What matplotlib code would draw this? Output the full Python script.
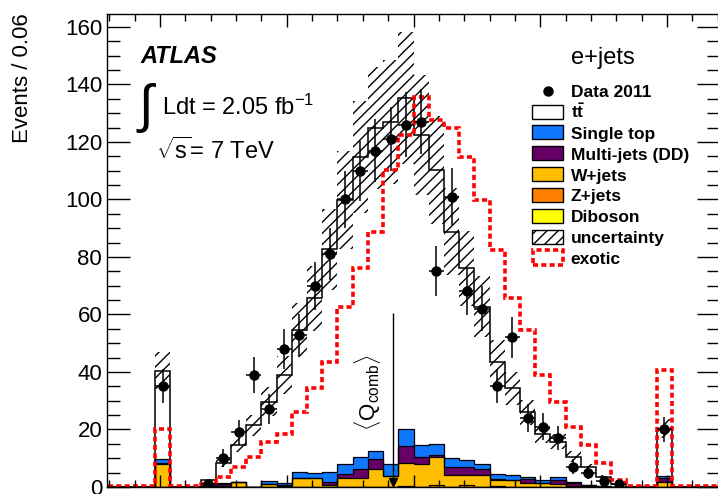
import numpy as np
import matplotlib
matplotlib.use('Agg')
import matplotlib.pyplot as plt
from matplotlib.patches import Rectangle
from matplotlib.lines import Line2D
from matplotlib.ticker import MultipleLocator

plt.rcParams['font.family'] = ['Liberation Sans', 'DejaVu Sans']
plt.rcParams['mathtext.fontset'] = 'custom'
plt.rcParams['mathtext.rm'] = 'Liberation Sans'
plt.rcParams['mathtext.it'] = 'Liberation Sans:italic'
plt.rcParams['mathtext.bf'] = 'Liberation Sans:bold'
plt.rcParams['hatch.linewidth'] = 1.0

#binning: 40 bins of 0.06 from -1.2 to 1.2
edges = np.linspace(-1.2, 1.2, 41)
centers = 0.5 * (edges[1:] + edges[:-1])
bin_w = 0.06

#data 2011 (events per bin)
data = np.array([0, 0, 0,
                 35, 0, 0, 1, 10, 19, 39, 27, 48, 53,
                 70, 81, 100, 110, 117, 121, 126, 127, 75, 101,
                 68, 62, 35, 52, 24, 21, 17, 7, 5, 2,
                 1, 0, 0, 20,
                 0, 0, 0], dtype=float)

#total prediction (top of the stack)
mc_total = np.array([0, 0, 0,
                     40.5, 0, 0, 2.4, 8.4, 14.6, 21.5, 29.7, 39.0, 54.6,
                     65.6, 82.6, 99.8, 114.7, 124.8, 127.0, 135.3, 122.4, 110.3, 88.8,
                     76.0, 62.7, 43.6, 34.3, 26.0, 18.5, 15.8, 10.6, 6.9, 3.6,
                     1.0, 0, 0, 20.3,
                     0, 0, 0])

#uncertainty on the prediction
mc_unc = np.array([0, 0, 0,
                   6.5, 0.1, 0.1, 0.5, 1.5, 2.6, 3.7, 5.1, 6.7, 9.3,
                   11.2, 14.0, 17.0, 19.5, 21.2, 21.6, 23.0, 20.8, 18.8, 15.1,
                   12.9, 10.7, 7.4, 5.8, 4.4, 3.1, 2.7, 1.8, 1.2, 0.6,
                   0.2, 0.1, 0.1, 3.4,
                   0, 0, 0])

#exotic model
exotic = np.array([0.4, 0.4, 0.4,
                   20.2, 0.4, 0.4, 1.0, 3.6, 6.8, 10.5, 15.8, 18.6, 26.0,
                   34.3, 43.6, 62.7, 76.0, 88.8, 110.3, 122.4, 135.5, 127.6, 125.0,
                   114.9, 99.8, 82.4, 65.6, 54.6, 39.0, 29.7, 21.0, 14.6, 8.2,
                   2.4, 0.4, 0.4, 40.7,
                   0.4, 0.4, 0.4])

#background components (bottom to top of the stack)
diboson = np.array([0, 0, 0,
                    0, 0, 0, 0, 0, 0, 0, 0, 0, 0.1,
                    0.1, 0.1, 0.1, 0.1, 0.1, 0.1, 0.1, 0.1, 0.1, 0.1,
                    0.1, 0.1, 0, 0, 0, 0, 0, 0, 0, 0,
                    0, 0, 0, 0,
                    0, 0, 0])
zjets = np.array([0, 0, 0,
                  0, 0, 0, 0, 0, 0, 0, 0, 0, 0,
                  0, 0, 0, 0, 0, 0, 0.2, 0, 0.6, 0,
                  0.6, 0, 0.3, 0, 0, 0, 0, 0, 0, 0,
                  0, 0, 0, 0,
                  0, 0, 0])
wjets = np.array([0, 0, 0,
                  8.0, 0, 0, 0.3, 0.2, 1.6, 0, 1.0, 0.5, 3.0,
                  3.0, 0.5, 3.0, 3.0, 6.3, 3.7, 8.0, 8.0, 9.7, 3.9,
                  3.3, 3.9, 2.3, 2.6, 1.4, 1.3, 1.0, 0.5, 0.2, 0.1,
                  0.1, 0, 0, 1.6,
                  0, 0, 0])
multijet = np.array([0, 0, 0,
                     0.3, 0, 0, 0.9, 1.0, 0, 0, 0.2, 0.3, 0,
                     0, 1.1, 1.5, 3.3, 3.4, 0, 5.8, 2.5, 0.6, 2.9,
                     2.9, 2.4, 0.2, 0, 1.4, 0.2, 1.4, 0.9, 0.4, 0.2,
                     0, 0, 0, 1.5,
                     0, 0, 0])
singletop = np.array([0, 0, 0,
                      1.4, 0, 0, 0.1, 0.1, 0.2, 0, 1.0, 0.6, 2.1,
                      1.8, 3.5, 3.5, 4.0, 2.7, 4.3, 6.0, 3.9, 4.1, 3.3,
                      2.4, 1.7, 1.7, 1.6, 0.8, 0.9, 1.2, 0.2, 0.2, 0,
                      0, 0, 0, 0.8,
                      0, 0, 0])

#mean of the combined charge
q_comb_mean = -0.08
q_line_top = 60.5

bkg_values = [diboson, zjets, wjets, multijet, singletop]
bkg_colors = ['#ffff00', '#ff7f00', '#ffbf00', '#660066', '#0f78ff']

W, H = 718, 494
fig = plt.figure(figsize=(W / 100, H / 100), dpi=100)
ax = fig.add_axes([107 / W, 7 / H, (720 - 107) / W, (487 - 14) / H])

def fx(px):
    return px / W

def fy(py):
    return 1 - py / H

#stack
bottom = np.zeros(len(centers))
for vals, col in zip(bkg_values, bkg_colors):
    top = bottom + vals
    ax.stairs(top, edges, baseline=bottom, fill=True, color=col, zorder=1)
    ax.stairs(top, edges, baseline=None, color='black', lw=0.9, zorder=1.2)
    bottom = top

#ttbar on top (white)
ax.stairs(mc_total, edges, baseline=bottom, fill=True, color='white', zorder=0.9)
ax.stairs(mc_total, edges, color='black', lw=1.1, zorder=1.3)

#uncertainty band
ax.bar(centers, 2 * mc_unc, bottom=mc_total - mc_unc, width=bin_w, fill=False,
       hatch='///', edgecolor='black', linewidth=0, zorder=1.4)

#exotic
ax.stairs(exotic, edges, color='#ff0000', lw=2.6, linestyle=(0, (1.4, 0.9)), zorder=1.5)

#data points (empty bins not drawn)
mask = data > 0
ax.errorbar(centers[mask], data[mask], yerr=np.sqrt(data[mask]), xerr=bin_w / 2,
            fmt='o', color='black', ms=6.5, lw=1.1, capsize=0, zorder=3)

#<Q_comb> line
ax.vlines(q_comb_mean, 0, q_line_top, color='black', lw=1.0, zorder=2)
ax.plot([q_comb_mean], [1.6], marker='v', color='black', ms=6, zorder=2)
ax.text(-0.18, 33, r'$\langle \mathrm{Q}_{\mathrm{comb}}\rangle$', rotation=90,
        ha='center', va='center', fontsize=16)

ax.set_xlim(-1.209, 1.209)
ax.set_ylim(0, 164.5)
ax.set_yticks(np.arange(0, 161, 20))
ax.yaxis.set_minor_locator(MultipleLocator(5))
ax.xaxis.set_major_locator(MultipleLocator(0.5))
ax.xaxis.set_minor_locator(MultipleLocator(0.1))
ax.tick_params(axis='y', which='major', length=16.5, width=1.0, direction='in',
               left=True, right=True, labelsize=16, pad=3.5)
ax.tick_params(axis='y', which='minor', length=9.4, width=1.0, direction='in',
               left=True, right=True)
ax.tick_params(axis='x', which='major', length=9, width=1.0, direction='in',
               top=True, bottom=True, labelbottom=False)
ax.tick_params(axis='x', which='minor', length=4.8, width=1.0, direction='in',
               top=True, bottom=True)
for s in ax.spines.values():
    s.set_linewidth(1.0)

fig.text(fx(23), fy(13), 'Events / 0.06', rotation=90, ha='center', va='top', fontsize=16)

#labels
fig.text(fx(140), fy(63.3), 'ATLAS', fontsize=17, weight='bold', style='italic', va='baseline')
fig.text(fx(139), fy(122), '\u222b', fontsize=38, va='baseline')
fig.text(fx(162), fy(115), r'Ldt = 2.05 fb$^{\mathregular{-1}}$', fontsize=17, va='baseline')
fig.text(fx(156), fy(159), r'$\sqrt{\mathrm{s}}$= 7 TeV', fontsize=17, va='baseline')
fig.text(fx(570.7), fy(64), 'e+jets', fontsize=17, va='baseline')

#legend drawn by hand
leg_labels = ['Data 2011', r'$\mathbf{t\bar{t}}$', 'Single top', 'Multi-jets (DD)',
              'W+jets', 'Z+jets', 'Diboson', 'uncertainty', 'exotic']
leg_faces = [None, 'white', '#0f78ff', '#660066', '#ffbf00', '#ff7f00', '#ffff00',
             'white', 'none']
for i, (lab, fc) in enumerate(zip(leg_labels, leg_faces)):
    cy = 90.7 + 20.9 * i
    if lab == 'Data 2011':
        fig.add_artist(Line2D([fx(548)], [fy(cy)], marker='o', color='black', ms=6.5,
                              transform=fig.transFigure))
    elif lab == 'exotic':
        fig.add_artist(Rectangle((fx(532.5), fy(cy + 7.5)), 30 / W, 15 / H,
                                 transform=fig.transFigure, facecolor='none',
                                 edgecolor='#ff0000', lw=2.6, linestyle=(0, (1.4, 0.9))))
    else:
        fig.add_artist(Rectangle((fx(531.7), fy(cy + 7)), 31.6 / W, 14 / H,
                                 transform=fig.transFigure, facecolor=fc,
                                 edgecolor='black', lw=1.0,
                                 hatch='///' if lab == 'uncertainty' else None))
    fig.text(fx(570.7), fy(cy + 6.2), lab, fontsize=12.5, weight='bold', va='baseline')

fig.savefig('out.png', dpi=100)
